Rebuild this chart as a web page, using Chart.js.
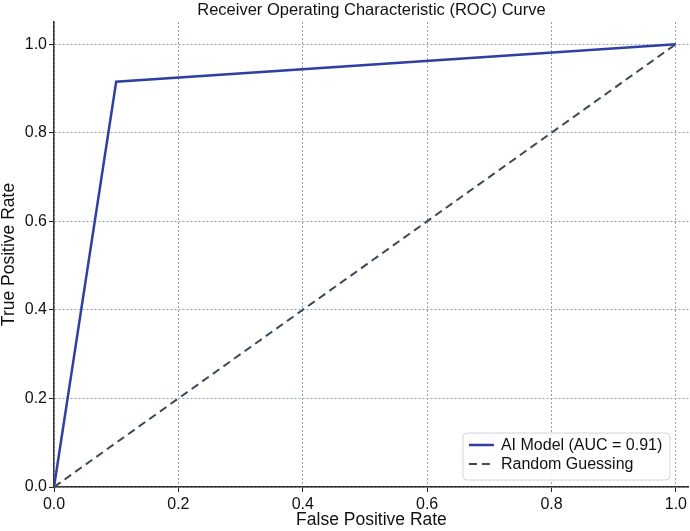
<!DOCTYPE html>
<html>
<head>
<meta charset="utf-8">
<script src="https://cdn.jsdelivr.net/npm/chart.js@4"></script>
<style>
  html, body { margin: 0; padding: 0; background: #fff; }
  #wrap { width: 690px; height: 531px; }
</style>
</head>
<body>
<div id="wrap"><canvas id="roc" width="690" height="531"></canvas></div>
<script>
// Data
const modelFpr = [0.0, 0.1, 1.0];
const modelTpr = [0.0, 0.915, 1.0];
const randomFpr = [0.0, 1.0];
const randomTpr = [0.0, 1.0];
const tickValues = [0.0, 0.2, 0.4, 0.6, 0.8, 1.0];
const modelLabel = 'AI Model (AUC = 0.91)';
const randomLabel = 'Random Guessing';

const FONT = "'Liberation Sans', Arial, Helvetica, sans-serif";
const GRID = '#93a0b3';

function toPoints(xs, ys) {
    return xs.map((x, i) => ({ x: x, y: ys[i] }));
}

// Title centred over the plot area
const titlePlugin = {
    id: 'topTitle',
    afterDraw(chart) {
        const ctx = chart.ctx;
        const a = chart.chartArea;
        ctx.save();
        ctx.font = '16.5px ' + FONT;
        ctx.fillStyle = '#111';
        ctx.textAlign = 'center';
        ctx.textBaseline = 'middle';
        ctx.fillText('Receiver Operating Characteristic (ROC) Curve', (a.left + a.right) / 2, 10);
        ctx.restore();
    }
};

// Legend boxed inside the plot, lower right
const boxLegend = {
    id: 'boxLegend',
    afterDraw(chart) {
        const ctx = chart.ctx;
        const a = chart.chartArea;
        const w = 207, h = 47;
        const x = a.right - 19 - w;
        const y = a.bottom - 7 - h;
        ctx.save();
        ctx.beginPath();
        ctx.roundRect(x, y, w, h, 4);
        ctx.fillStyle = 'rgba(255,255,255,0.85)';
        ctx.fill();
        ctx.strokeStyle = '#cfd5dc';
        ctx.lineWidth = 1;
        ctx.stroke();
        ctx.font = '16px ' + FONT;
        ctx.textBaseline = 'middle';
        chart.data.datasets.forEach((ds, i) => {
            const cy = y + 12 + i * 19;
            ctx.beginPath();
            ctx.setLineDash(ds.borderDash || []);
            ctx.strokeStyle = ds.borderColor;
            ctx.lineWidth = ds.borderWidth;
            ctx.moveTo(x + 6, cy);
            ctx.lineTo(x + 31, cy);
            ctx.stroke();
            ctx.setLineDash([]);
            ctx.fillStyle = '#111';
            ctx.fillText(ds.label, x + 38, cy + 1);
        });
        ctx.restore();
    }
};

const gridOpts = {
    color: GRID,
    lineWidth: 1,
    tickColor: '#222',
    tickLength: 5,
    tickBorderDash: []
};

const ctx = document.getElementById('roc').getContext('2d');
new Chart(ctx, {
    type: 'scatter',
    data: {
        datasets: [
            {
                label: modelLabel,
                data: toPoints(modelFpr, modelTpr),
                showLine: true,
                borderColor: '#2f40a2',
                borderWidth: 2.5,
                pointRadius: 0,
                tension: 0
            },
            {
                label: randomLabel,
                data: toPoints(randomFpr, randomTpr),
                showLine: true,
                borderColor: '#3d4a56',
                borderWidth: 2,
                borderDash: [8, 5],
                pointRadius: 0,
                tension: 0
            }
        ]
    },
    options: {
        responsive: false,
        animation: false,
        layout: { padding: { top: 22, right: 0, left: 0, bottom: 0 } },
        plugins: {
            legend: { display: false },
            title: { display: false },
            tooltip: { enabled: false }
        },
        scales: {
            x: {
                type: 'linear',
                min: 0,
                max: 1.021,
                afterBuildTicks: s => { s.ticks = tickValues.map(v => ({ value: v })); },
                afterFit: s => { s.height = 44; },
                grid: gridOpts,
                border: { display: true, color: '#333', width: 1.5, dash: [2, 2] },
                ticks: {
                    color: '#111',
                    padding: 3,
                    maxRotation: 0,
                    font: { family: FONT, size: 16 },
                    callback: v => v.toFixed(1)
                },
                title: {
                    display: true,
                    text: 'False Positive Rate',
                    color: '#111',
                    padding: { top: -2, bottom: 0 },
                    font: { family: FONT, size: 17.5 }
                }
            },
            y: {
                type: 'linear',
                min: 0,
                max: 1.05,
                afterBuildTicks: s => { s.ticks = tickValues.map(v => ({ value: v })); },
                afterFit: s => { s.width = 54; },
                grid: gridOpts,
                border: { display: true, color: '#333', width: 1.5, dash: [2, 2] },
                ticks: {
                    color: '#111',
                    padding: 2,
                    font: { family: FONT, size: 16 },
                    callback: v => v.toFixed(1)
                },
                title: {
                    display: true,
                    text: 'True Positive Rate',
                    color: '#111',
                    padding: { top: -1, bottom: 0 },
                    font: { family: FONT, size: 17.5 }
                }
            }
        }
    },
    plugins: [titlePlugin, boxLegend]
});
</script>
</body>
</html>
